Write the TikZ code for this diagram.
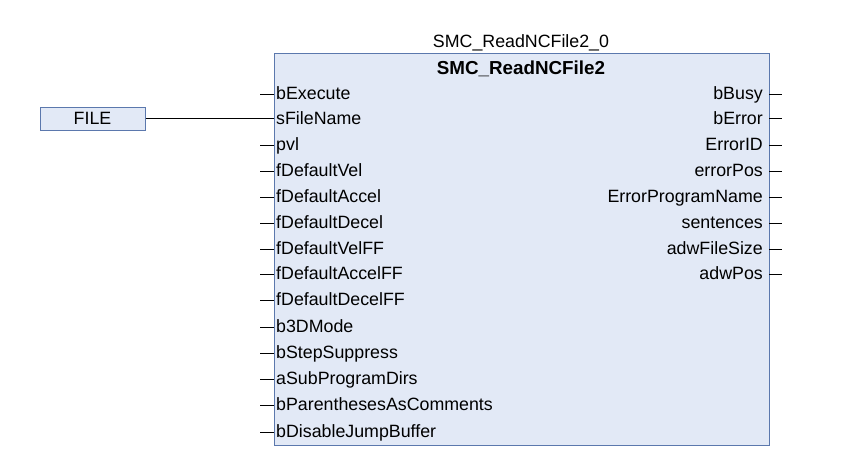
\documentclass[tikz,border=0pt]{standalone}
\usepackage{fontspec}
\setmainfont{Liberation Sans}
\usepackage{xcolor}
\usepackage{tikz}
\usetikzlibrary{calc, positioning}

\definecolor{fbfill}{HTML}{E2E9F6}
\definecolor{fbline}{HTML}{5B78AD}

\begin{document}
\begin{tikzpicture}[x=1pt, y=-1pt, font=\fontsize{17.8}{19}\selectfont,
    inpin/.style={anchor=base west, inner sep=1pt},
    outpin/.style={anchor=base east, inner sep=1pt},
    stub/.style={line width=0.9pt}]
    \useasboundingbox (0,0) rectangle (846,466);

    % 1. Khối hàm
    \node[draw=fbline, line width=1pt, fill=fbfill, anchor=north west,
          minimum width=495, minimum height=392, inner sep=0] (fb) at (274,53) {};
    \node[anchor=base] (inst) at (521,47) {SMC\_ReadNCFile2\_0};
    \node[anchor=base, font=\fontsize{18.8}{19}\selectfont\bfseries] (type) at (521,74) {SMC\_ReadNCFile2};

    % 2. Các đầu vào
    \foreach \name/\y in {bExecute/94, sFileName/118.5, pvl/145, fDefaultVel/171,
        fDefaultAccel/197, fDefaultDecel/223, fDefaultVelFF/249, fDefaultAccelFF/274,
        fDefaultDecelFF/300, b3DMode/327, bStepSuppress/353, aSubProgramDirs/379,
        bParenthesesAsComments/405, bDisableJumpBuffer/432} {
        \coordinate (\name-p) at (274,\y);
        \node[inpin] (\name) at ($(\name-p)+(1,5.8)$) {\name};
        \draw[stub] (\name-p) -- ++(-14,0);
    }

    % 3. Các đầu ra
    \foreach \name/\y in {bBusy/94, bError/118.5, ErrorID/145, errorPos/171,
        ErrorProgramName/197, sentences/223, adwFileSize/249, adwPos/274} {
        \coordinate (\name-p) at (769,\y);
        \node[outpin] (\name) at ($(\name-p)+(-5,5.8)$) {\name};
        \draw[stub] (\name-p) -- ++(13,0);
    }

    % 4. Biến nối vào
    \node[draw=fbline, line width=1pt, fill=fbfill, minimum width=105,
          minimum height=23, inner sep=0] (file) at (92.5,118.5) {FILE};
    \draw[stub] (file.east) -- (sFileName-p);
\end{tikzpicture}
\end{document}
